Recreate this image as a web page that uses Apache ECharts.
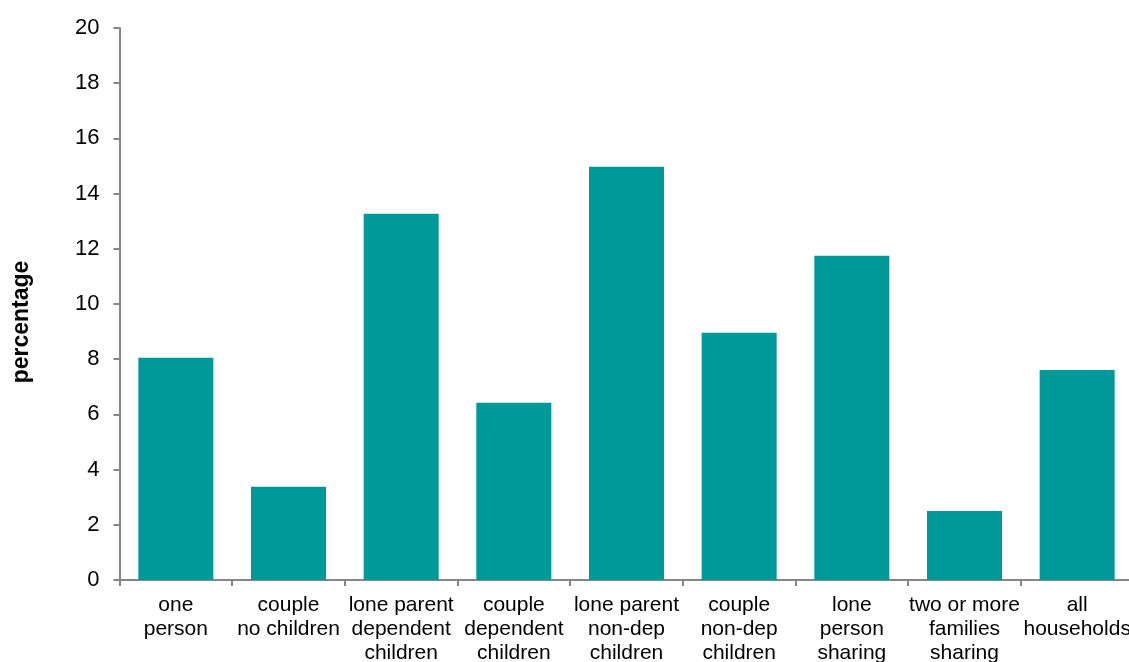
<!DOCTYPE html>
<html>
<head>
<meta charset="utf-8">
<script src="https://cdn.jsdelivr.net/npm/echarts@6/dist/echarts.min.js"></script>
<style>
html,body{margin:0;padding:0;background:#fff;}
#chart{width:1129px;height:662px;}
</style>
</head>
<body>
<div id="chart"></div>
<script>
var categories = [
  'one\nperson',
  'couple\nno children',
  'lone parent\ndependent\nchildren',
  'couple\ndependent\nchildren',
  'lone parent\nnon-dep\nchildren',
  'couple\nnon-dep\nchildren',
  'lone\nperson\nsharing',
  'two or more\nfamilies\nsharing',
  'all\nhouseholds'
];
var values = [8.05, 3.38, 13.27, 6.42, 14.97, 8.96, 11.75, 2.5, 7.61];
var yTicks = { min: 0, max: 20, interval: 2 };
var yTitle = 'percentage';

var chart = echarts.init(document.getElementById('chart'), null, { renderer: 'canvas' });
var font = 'Liberation Sans, Arial, sans-serif';
chart.setOption({
  animation: false,
  backgroundColor: '#ffffff',
  grid: { left: 119.5, top: 28, width: 1014, height: 552, containLabel: false, outerBoundsMode: 'none' },
  xAxis: {
    type: 'category',
    data: categories,
    axisLine: { lineStyle: { color: '#868686', width: 2 } },
    axisTick: { show: true, length: 6, alignWithLabel: false, lineStyle: { color: '#868686', width: 2 } },
    axisLabel: { color: '#000', fontFamily: font, fontSize: 21, lineHeight: 24, margin: 13, interval: 0, hideOverlap: false },
    splitLine: { show: false }
  },
  yAxis: {
    type: 'value',
    min: yTicks.min, max: yTicks.max, interval: yTicks.interval,
    axisLine: { show: true, lineStyle: { color: '#868686', width: 2 } },
    axisTick: { show: true, length: 6, lineStyle: { color: '#868686', width: 2 } },
    axisLabel: { color: '#000', fontFamily: font, fontSize: 22, margin: 20 },
    splitLine: { show: false }
  },
  graphic: [{
    type: 'text',
    x: 22, y: 322,
    rotation: Math.PI / 2,
    style: {
      text: yTitle,
      fill: '#000',
      font: 'bold 23px Liberation Sans, Arial, sans-serif',
      align: 'center',
      verticalAlign: 'middle'
    }
  }],
  series: [{
    type: 'bar',
    data: values,
    barWidth: 75,
    itemStyle: { color: '#009999' }
  }]
});
</script>
</body>
</html>
